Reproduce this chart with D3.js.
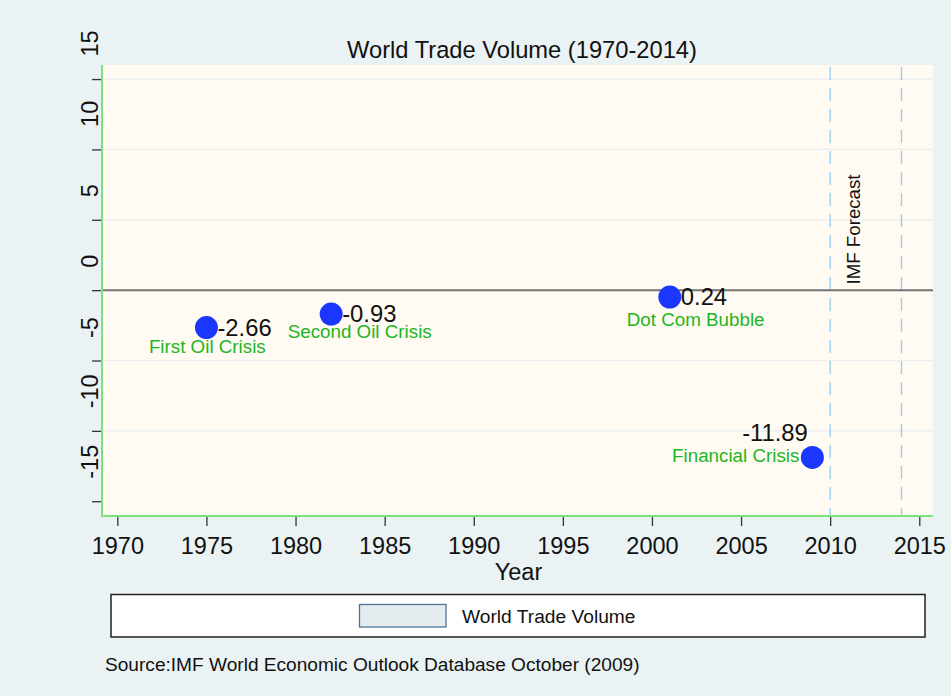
<!DOCTYPE html>
<html>
<head>
<meta charset="utf-8">
<script src="https://cdn.jsdelivr.net/npm/d3@7"></script>
<style>
  html, body { margin: 0; padding: 0; background: #eaf2f3; }
  svg { display: block; font-family: "Liberation Sans", Arial, Helvetica, sans-serif; }
</style>
</head>
<body>
<svg id="chart" width="951" height="696"></svg>
<script>
// ---------- data ----------
const years = [1975, 1982, 2001, 2009];
const tradeVolume = [-2.66, -1.70, -0.49, -11.89];
const pointLabels = ["-2.66", "-0.93", "0.24", "-11.89"];
const eventNames = ["First Oil Crisis", "Second Oil Crisis", "Dot Com Bubble", "Financial Crisis"];
const eventYears = [1975.05, 1983.6, 2002.45, 2004.7];
const eventValues = [-4.0, -2.9, -2.1, -11.7];
const xTicks = [1970, 1975, 1980, 1985, 1990, 1995, 2000, 2005, 2010, 2015];
const yTicks = [-15, -10, -5, 0, 5, 10, 15];
const yGrid = [-10, -5, 5, 10, 15];
const forecastYears = [2010, 2014];
const forecastLabel = "IMF Forecast";
const forecastLabelAt = [2011.3, 0.4];
const chartTitle = "World Trade Volume (1970-2014)";
const xTitle = "Year";
const legendLabel = "World Trade Volume";
const sourceNote = "Source:IMF World Economic Outlook Database October (2009)";

// ---------- layout ----------
const plot = { left: 102, right: 933, top: 65, bottom: 516 };
const svg = d3.select("#chart");

const x = d3.scaleLinear().domain([1969.14, 2015.77]).range([plot.left, plot.right]);
const y = d3.scaleLinear().domain([-16.05, 16]).range([plot.bottom, plot.top]);

// outer background
svg.append("rect").attr("width", 951).attr("height", 696).attr("fill", "#eaf2f3");

// plot region
svg.append("rect")
  .attr("x", plot.left).attr("y", plot.top)
  .attr("width", plot.right - plot.left).attr("height", plot.bottom - plot.top)
  .attr("fill", "#fffbf2");

// gridlines
svg.append("g").selectAll("line").data(yGrid).join("line")
  .attr("x1", plot.left).attr("x2", plot.right)
  .attr("y1", d => y(d)).attr("y2", d => y(d))
  .attr("stroke", "#e7eef2").attr("stroke-width", 1.2);

// forecast dashed lines
svg.append("g").selectAll("line").data(forecastYears).join("line")
  .attr("x1", d => x(d)).attr("x2", d => x(d))
  .attr("y1", plot.top + 2).attr("y2", plot.bottom)
  .attr("stroke", "#9fcdea").attr("stroke-width", 1.4)
  .attr("stroke-dasharray", "13,8");

// zero line
svg.append("line")
  .attr("x1", plot.left).attr("x2", plot.right)
  .attr("y1", y(0)).attr("y2", y(0))
  .attr("stroke", "#737373").attr("stroke-width", 2);

// x axis
const xAxis = svg.append("g")
  .attr("transform", `translate(0,${plot.bottom})`)
  .call(d3.axisBottom(x).tickValues(xTicks).tickSize(10).tickPadding(11.3)
    .tickFormat(d => String(d)));
xAxis.select(".domain").remove();
xAxis.selectAll(".tick line").attr("stroke", "#333").attr("stroke-width", 1.3);
xAxis.selectAll(".tick text")
  .attr("font-size", "23.5px").attr("fill", "#111")
  .attr("font-family", "Liberation Sans, Arial, sans-serif");

// y axis
const yAxis = svg.append("g")
  .attr("transform", `translate(${plot.left},0)`)
  .call(d3.axisLeft(y).tickValues(yTicks).tickSize(10).tickFormat(d => String(d)));
yAxis.select(".domain").remove();
yAxis.selectAll(".tick line").attr("stroke", "#333").attr("stroke-width", 1.3);
yAxis.selectAll(".tick text")
  .attr("x", null).attr("dy", null)
  .attr("text-anchor", "start")
  .attr("transform", "translate(-4.5,-23) rotate(-90)")
  .attr("font-size", "23.5px").attr("fill", "#111")
  .attr("font-family", "Liberation Sans, Arial, sans-serif");

// green axis lines
svg.append("line")
  .attr("x1", plot.left).attr("x2", plot.left)
  .attr("y1", plot.top).attr("y2", plot.bottom + 1)
  .attr("stroke", "#7be27b").attr("stroke-width", 2);
svg.append("line")
  .attr("x1", plot.left).attr("x2", plot.right)
  .attr("y1", plot.bottom).attr("y2", plot.bottom)
  .attr("stroke", "#7be27b").attr("stroke-width", 2);

// forecast label
svg.append("text")
  .attr("transform", `translate(${x(forecastLabelAt[0])},${y(forecastLabelAt[1])}) rotate(-90)`)
  .attr("dy", "0.35em")
  .attr("text-anchor", "start")
  .attr("font-size", "18.7px").attr("fill", "#111")
  .text(forecastLabel);

// event captions
svg.append("g").selectAll("text").data(eventNames).join("text")
  .attr("x", (d, i) => x(eventYears[i]))
  .attr("y", (d, i) => y(eventValues[i]))
  .attr("dy", "0.36em")
  .attr("text-anchor", "middle")
  .attr("font-size", "18.8px").attr("fill", "#1eb51e")
  .text(d => d);

// points
const pts = years.map((yr, i) => ({ yr, v: tradeVolume[i], lab: pointLabels[i] }));
svg.append("g").selectAll("circle").data(pts).join("circle")
  .attr("cx", d => x(d.yr)).attr("cy", d => y(d.v))
  .attr("r", 11.5).attr("fill", "#1a36ff");

// point labels (Stata clock positions: 3 = right, 11 = upper-left)
const clock = [3, 3, 3, 11];
svg.append("g").selectAll("text").data(pts).join("text")
  .attr("x", (d, i) => clock[i] === 3 ? x(d.yr) + 11 : x(d.yr) - 4.5)
  .attr("y", (d, i) => clock[i] === 3 ? y(d.v) : y(d.v) - 16.5)
  .attr("dy", (d, i) => clock[i] === 3 ? "0.35em" : "0")
  .attr("text-anchor", (d, i) => clock[i] === 3 ? "start" : "end")
  .attr("font-size", "23.8px").attr("fill", "#111")
  .text(d => d.lab);

// title
svg.append("text")
  .attr("x", 522).attr("y", 57.5)
  .attr("text-anchor", "middle")
  .attr("font-size", "23.7px").attr("fill", "#111")
  .text(chartTitle);

// x title
svg.append("text")
  .attr("x", (plot.left + plot.right) / 2 + 1).attr("y", 580)
  .attr("text-anchor", "middle")
  .attr("font-size", "23.5px").attr("fill", "#111")
  .text(xTitle);

// legend
svg.append("rect")
  .attr("x", 111).attr("y", 594.5).attr("width", 814).attr("height", 42.5)
  .attr("fill", "#ffffff").attr("stroke", "#222").attr("stroke-width", 1.5);
svg.append("rect")
  .attr("x", 359.5).attr("y", 604.5).attr("width", 86.5).attr("height", 22.5)
  .attr("fill", "#e5ecef").attr("stroke", "#4d7396").attr("stroke-width", 1.3);
svg.append("text")
  .attr("x", 462).attr("y", 622.5)
  .attr("font-size", "19.2px").attr("fill", "#111")
  .text(legendLabel);

// source note
svg.append("text")
  .attr("x", 105).attr("y", 671)
  .attr("font-size", "19.1px").attr("fill", "#111")
  .text(sourceNote);
</script>
</body>
</html>
